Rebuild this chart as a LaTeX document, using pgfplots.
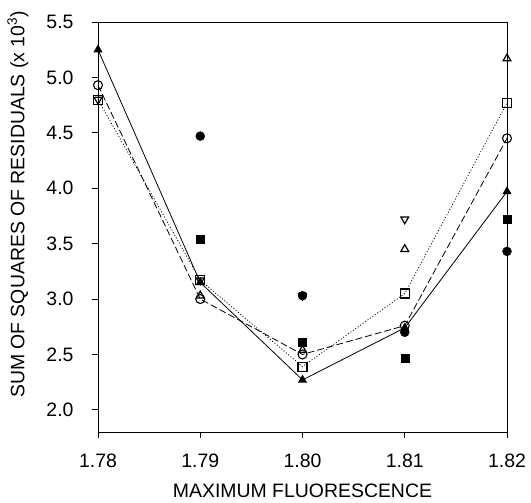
\documentclass[border=0pt]{standalone}
\usepackage{pgfplots}
\pgfplotsset{compat=1.18}
\usepackage{fontspec}
\setmainfont{Liberation Sans}
\begin{document}
\begin{tikzpicture}
\begin{axis}[
  scale only axis, width=409bp, height=410bp,
  xmin=1.78, xmax=1.82, ymin=1.8, ymax=5.5,
  xtick={1.78,1.79,1.80,1.81,1.82},
  ytick={2.0,2.5,3.0,3.5,4.0,4.5,5.0,5.5},
  xticklabel style={/pgf/number format/fixed, /pgf/number format/fixed zerofill, /pgf/number format/precision=2},
  yticklabel style={/pgf/number format/fixed, /pgf/number format/fixed zerofill, /pgf/number format/precision=1},
  /pgf/number format/assume math mode=true,
  tick align=outside, major tick length=6bp,
  xtick pos=lower, ytick pos=left,
  font=\fontsize{19.5}{23}\selectfont,
  yticklabel shift=15bp,
  xticklabel shift=12bp,
  xlabel={MAXIMUM FLUORESCENCE},
  ylabel={SUM OF SQUARES OF RESIDUALS (x 10\textsuperscript{3})},
  xlabel style={at={(axis description cs:0.5,-0.144)}, anchor=center},
  ylabel style={at={(axis description cs:-0.196,0.555)}, anchor=center},
  axis line style={line width=0.8pt},
  tick style={black, line width=0.8pt},
  clip=false,
  mark size=4.5bp,
]
% connected series
\addplot[black, line width=0.8pt, mark=triangle*, mark options={solid, fill=black}] coordinates {
 (1.78,5.25) (1.79,3.15) (1.80,2.27) (1.81,2.74) (1.82,3.97)};
\addplot[black, line width=0.8pt, dash pattern=on 7pt off 3pt, mark=o, mark options={solid, fill=white, line width=1.1pt}] coordinates {
 (1.78,4.93) (1.79,3.00) (1.80,2.50) (1.81,2.76) (1.82,4.45)};
\addplot[black, line width=0.8pt, dash pattern=on 1pt off 2pt, mark=square, mark options={solid, fill=white, line width=1.1pt}] coordinates {
 (1.78,4.80) (1.79,3.17) (1.80,2.39) (1.81,3.05) (1.82,4.77)};
% unconnected series
\addplot[only marks, black, mark=*] coordinates {
 (1.79,4.47) (1.80,3.03) (1.81,2.70) (1.82,3.43)};
\addplot[only marks, black, mark=square*, mark size=4bp] coordinates {
 (1.79,3.54) (1.80,2.61) (1.81,2.47) (1.82,3.72)};
\addplot[only marks, black, mark=triangle, mark options={fill=white, line width=1.2pt}] coordinates {
 (1.79,3.03) (1.80,2.54) (1.81,3.45) (1.82,5.17)};
\addplot[only marks, black, mark=triangle, mark options={fill=white, rotate=180, line width=1.2pt}] coordinates {
 (1.78,4.80) (1.79,3.17) (1.80,3.03) (1.81,3.72)};
\end{axis}
\path ([xshift=-98bp,yshift=-70bp]current axis.south west) rectangle ([xshift=24bp,yshift=22bp]current axis.north east);
\end{tikzpicture}
\end{document}
